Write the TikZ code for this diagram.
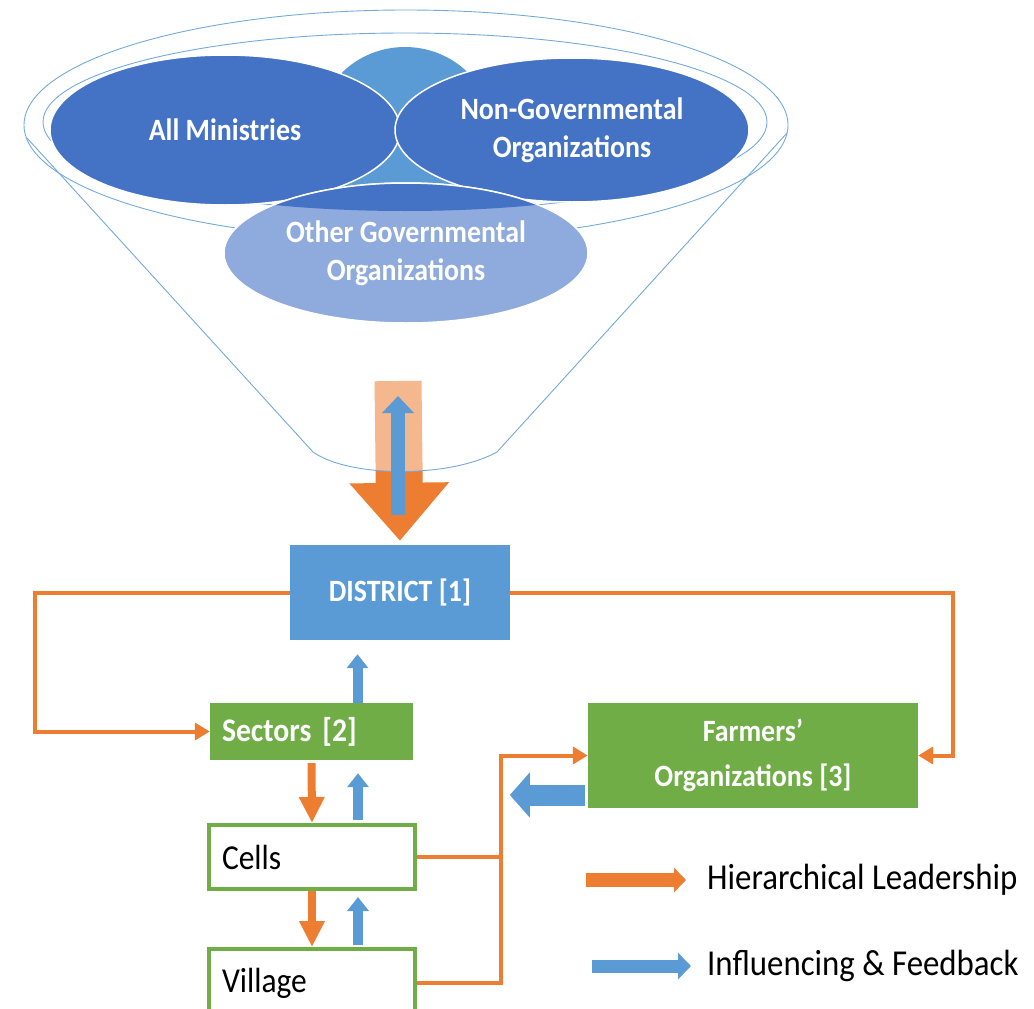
\documentclass[tikz,border=0pt]{standalone}
\usepackage{fontspec}
\setmainfont[FakeStretch=0.9]{Carlito}
\usetikzlibrary{shapes,arrows,arrows.meta}
\usetikzlibrary{positioning,calc}
\definecolor{ofill}{HTML}{ED7D31}
\definecolor{bfill}{HTML}{5B9BD5}
\definecolor{dblue}{HTML}{4472C4}
\definecolor{lblue}{HTML}{8FAADC}
\definecolor{gfill}{HTML}{70AD47}
\tikzset{rim/.style={draw=bfill!85, line width=0.9pt},
ell/.style={ellipse, draw=white, line width=1.5pt, text=white, font=\fontsize{31}{38}\selectfont\bfseries, align=center, inner sep=0pt},
box/.style={rectangle, inner sep=0pt},
hier/.style={draw=ofill, line width=4pt, -{Triangle[length=15pt,width=17pt]}},
hierline/.style={draw=ofill, line width=4pt},
downblk/.style={draw=ofill, line width=8pt, -{Triangle[length=26pt,width=24pt]}},
upblk/.style={draw=bfill, line width=10pt, -{Triangle[length=14pt,width=21pt]}}
}

\begin{document}
\begin{tikzpicture}[x=1pt, y=-1pt, font=\fontsize{31}{34}\selectfont]
\useasboundingbox (0,0) rectangle (1034,1009);
% funnel
\coordinate (ftop) at (398,381);
\coordinate (fbot) at (398,515);
\coordinate (fup) at (398,396);
\node[box, fill=bfill, minimum width=220, minimum height=95, text=white, font=\fontsize{31}{34}\selectfont\bfseries] (district) at (400,592.5) {DISTRICT [1]};
\draw[draw=ofill, line width=47pt, -{Triangle[length=58pt,width=96pt]}, shorten >=4pt] (ftop) -- (district.north);
\fill[white, opacity=0.45] (27,138) -- (313,452) .. controls (350,478) and (450,478) .. (497,452) -- (787,133) -- cycle;
\draw[rim] (27,138) -- (313,452) .. controls (350,478) and (450,478) .. (497,452) -- (787,133);
\draw[rim] (406,125) ellipse [x radius=382, y radius=115];
\draw[rim] (405,122) ellipse [x radius=362, y radius=89];
\draw[draw=bfill, line width=14pt, -{Triangle[length=17pt,width=31pt]}] (fbot) -- (fup);
% ellipses
\fill[bfill] (405,132) ellipse [x radius=88, y radius=85];
\node[ell, fill=dblue, minimum width=350, minimum height=150] (minis) at (225,130) {All Ministries};
\node[ell, fill=dblue, minimum width=354, minimum height=144] (ngo) at (572,130) {Non-Governmental\\Organizations};
\node[ell, fill=lblue, minimum width=364, minimum height=140] (otherg) at (406,253) {Other Governmental\\Organizations};
\begin{scope}
\clip (405,122) ellipse [x radius=362, y radius=89];
\fill[dblue] (otherg.center) ellipse [x radius=182, y radius=70];
\draw[white, line width=1.5pt] (otherg.center) ellipse [x radius=182, y radius=70];
\end{scope}
% levels
\node[box, fill=gfill, minimum width=203, minimum height=57, text width=179, align=left, inner xsep=12pt, text=white, font=\fontsize{33}{36}\selectfont\bfseries] (sectors) at (311.5,731.5) {Sectors [2]};
\node[box, draw=gfill, line width=4pt, fill=white, minimum width=206, minimum height=64, text width=180, align=left, inner xsep=13pt, font=\fontsize{35}{38}\selectfont] (cells) at (312,857) {Cells};
\node[box, draw=gfill, line width=4pt, fill=white, minimum width=206, minimum height=68, text width=180, align=left, inner xsep=13pt, font=\fontsize{35}{38}\selectfont] (village) at (312,983) {Village};
\node[box, fill=gfill, minimum width=330, minimum height=105, align=center, text=white, font=\fontsize{31}{45}\selectfont\bfseries] (farmers) at (753,755.5) {Farmers’\\Organizations [3]};
% hierarchy
\draw[hier] (district.west) -- ++(-255,0) |- (sectors.west);
\draw[hier] (district.east) -- ++(443,0) |- (farmers.east);
\draw[hierline] (cells.east) -- ++(84,0);
\draw[hier] (village.east) -- ++(84,0) |- (farmers.west);
\draw[downblk, shorten <=3pt] (sectors.south) -- (cells.north);
\draw[downblk] (cells.south) -- (village.north);
% feedback
\coordinate (secup) at ([xshift=46pt]sectors.north);
\coordinate (celup) at ([xshift=46pt]cells.north);
\coordinate (vilup) at ([xshift=46pt]village.north);
\draw[upblk, shorten >=14pt] (secup) -- (secup |- district.south);
\draw[upblk, shorten >=13pt, shorten <=3pt] (celup) -- (celup |- sectors.south);
\draw[upblk, shorten >=6pt, shorten <=2pt] (vilup) -- (vilup |- cells.south);
\coordinate (farmout) at ([yshift=-39.5pt]farmers.west);
\draw[draw=bfill, line width=21pt, -{Triangle[length=20pt,width=44pt]}, shorten <=3pt] (farmout) -- ++(-78,0);
% legend
\node[anchor=west, font=\fontsize{36.5}{40}\selectfont, inner sep=0pt] (lead) at (707,880) {Hierarchical Leadership};
\node[anchor=west, font=\fontsize{36.5}{40}\selectfont, inner sep=0pt] (feed) at (707,966) {Influencing \& Feedback};
\draw[draw=ofill, line width=14pt, -{Triangle[length=12pt,width=24pt]}] ([xshift=-121pt]lead.west) -- ([xshift=-21pt]lead.west);
\draw[draw=bfill, line width=13pt, -{Triangle[length=13pt,width=26pt]}] ([xshift=-115pt]feed.west) -- ([xshift=-16pt]feed.west);
\end{tikzpicture}
\end{document}
